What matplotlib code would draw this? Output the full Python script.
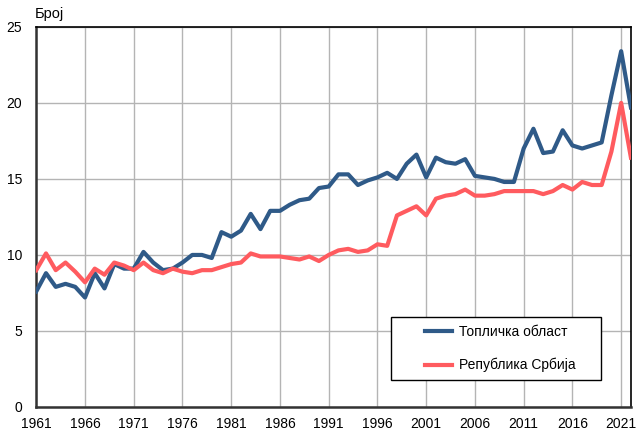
import numpy as np
import matplotlib
matplotlib.use("Agg")
import matplotlib.pyplot as plt
from matplotlib.patches import Rectangle

plt.rcParams["font.family"] = ["Liberation Sans", "DejaVu Sans"]

years = list(range(1961, 2023))
toplica = [
    7.6, 8.8, 7.9, 8.1, 7.9, 7.2, 8.8, 7.8, 9.4, 9.1,
    9.1, 10.2, 9.5, 9.0, 9.1, 9.5, 10.0, 10.0, 9.8, 11.5,
    11.2, 11.6, 12.7, 11.7, 12.9, 12.9, 13.3, 13.6, 13.7, 14.4,
    14.5, 15.3, 15.3, 14.6, 14.9, 15.1, 15.4, 15.0, 16.0, 16.6,
    15.1, 16.4, 16.1, 16.0, 16.3, 15.2, 15.1, 15.0, 14.8, 14.8,
    17.0, 18.3, 16.7, 16.8, 18.2, 17.2, 17.0, 17.2, 17.4, 20.5,
    23.4, 19.7,
]
srbija = [
    9.0, 10.1, 9.0, 9.5, 8.9, 8.2, 9.1, 8.7, 9.5, 9.3,
    9.0, 9.5, 9.0, 8.8, 9.1, 8.9, 8.8, 9.0, 9.0, 9.2,
    9.4, 9.5, 10.1, 9.9, 9.9, 9.9, 9.8, 9.7, 9.9, 9.6,
    10.0, 10.3, 10.4, 10.2, 10.3, 10.7, 10.6, 12.6, 12.9, 13.2,
    12.6, 13.7, 13.9, 14.0, 14.3, 13.9, 13.9, 14.0, 14.2, 14.2,
    14.2, 14.2, 14.0, 14.2, 14.6, 14.3, 14.8, 14.6, 14.6, 16.8,
    20.0, 16.4,
]
labels = ["Топличка област", "Република Србија"]
xticks = list(range(1961, 2022, 5))
yticks = [0, 5, 10, 15, 20, 25]

fig = plt.figure(figsize=(6.36, 4.3), dpi=100)
ax = fig.add_axes([0.057, 0.0535, 0.935, 0.884])

ax.plot(years, toplica, color="#2F5A88", lw=3, label=labels[0], zorder=3)
ax.plot(years, srbija, color="#FF5B5F", lw=3, label=labels[1], zorder=3)

ax.set_xlim(1961, 2022)
ax.set_ylim(0, 25)
ax.set_xticks(xticks)
ax.set_yticks(yticks)
ax.grid(True, color="#b4b4b4", lw=1)
ax.tick_params(length=0, labelsize=10)
ax.tick_params(axis="x", pad=7)
ax.tick_params(axis="y", pad=10)
for s in ax.spines.values():
    s.set_color("black")
    s.set_linewidth(1.2)
ax.spines["left"].set_color("#333333")
ax.spines["left"].set_linewidth(1.8)
ax.spines["bottom"].set_color("#333333")
ax.spines["bottom"].set_linewidth(1.8)

fig.text(0.055, 0.967, "Број", fontsize=10.5, ha="left", va="center")

# legend box drawn separately so it can be wider than its entries
ax.add_patch(Rectangle((0.597, 0.071), 0.353, 0.166, transform=ax.transAxes,
                       facecolor="white", edgecolor="black", lw=1, zorder=4))
leg = ax.legend(loc="center left", bbox_to_anchor=(0.654, 0.154), fontsize=10,
                frameon=False, handlelength=1.95, labelspacing=1.4,
                borderpad=0, handletextpad=0.5, borderaxespad=0)
leg.set_zorder(5)

plt.savefig("out.png", dpi=100)
